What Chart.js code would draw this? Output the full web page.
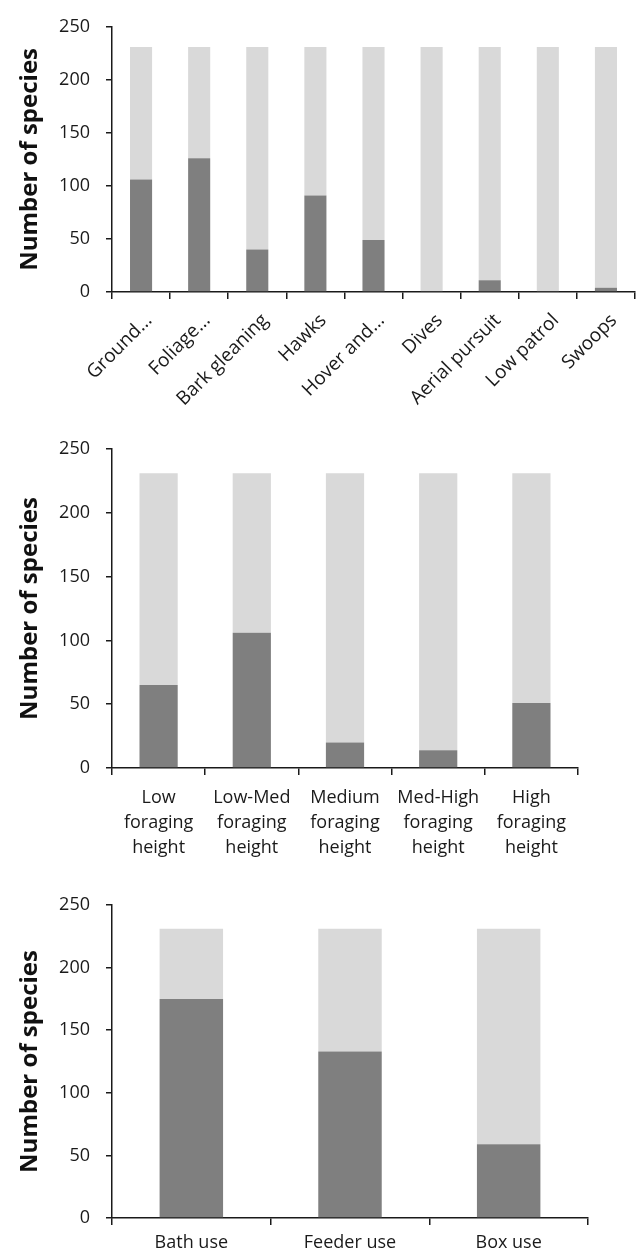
<!DOCTYPE html>
<html>
<head>
<meta charset="utf-8">
<script src="https://cdn.jsdelivr.net/npm/chart.js@4/dist/chart.umd.min.js"></script>
<style>
  body { margin: 0; background: #fff; }
  .box { position: absolute; left: 0; width: 640px; }
</style>
</head>
<body>
<div class="box" style="top:0;height:420px"><canvas id="chart1"></canvas></div>
<div class="box" style="top:420px;height:440px"><canvas id="chart2"></canvas></div>
<div class="box" style="top:860px;height:393px"><canvas id="chart3"></canvas></div>
<script>
// foraging behaviour
var behaviourLabels = ['Ground...', 'Foliage...', 'Bark gleaning', 'Hawks', 'Hover and...', 'Dives', 'Aerial pursuit', 'Low patrol', 'Swoops']
var behaviourYes = [106, 126, 40, 91, 49, 1, 11, 1, 4]
var behaviourNo = [125, 105, 191, 140, 182, 230, 220, 230, 227]

// foraging height
var heightLabels = [['Low', 'foraging', 'height'], ['Low-Med', 'foraging', 'height'], ['Medium', 'foraging', 'height'], ['Med-High', 'foraging', 'height'], ['High', 'foraging', 'height']]
var heightYes = [65, 106, 20, 14, 51]
var heightNo = [166, 125, 211, 217, 180]

// garden resources
var useLabels = ['Bath use', 'Feeder use', 'Box use']
var useYes = [175, 133, 59]
var useNo = [56, 98, 172]

var yTicks = [0, 50, 100, 150, 200, 250]
var yTitle = 'Number of species'

var darkGrey = '#7f7f7f'
var lightGrey = '#d9d9d9'
var axisColor = '#1a1a1a'

Chart.defaults.font.family = "'Open Sans', sans-serif"
Chart.defaults.color = '#1a1a1a'

function makeChart(id, labels, yes, no, opts) {
    var ctx = document.getElementById(id)
    return new Chart(ctx, {
        type: 'bar',
        data: {
            labels: labels,
            datasets: [{
                data: yes,
                backgroundColor: darkGrey,
                barPercentage: opts.barPct,
                categoryPercentage: 1
            }, {
                data: no,
                backgroundColor: lightGrey,
                barPercentage: opts.barPct,
                categoryPercentage: 1
            }]
        },
        options: {
            responsive: true,
            maintainAspectRatio: false,
            animation: false,
            layout: {
                padding: { top: opts.top, right: opts.right, left: 0, bottom: 0 }
            },
            scales: {
                x: {
                    stacked: true,
                    border: { display: true, color: axisColor, width: 1.5 },
                    grid: { display: true, drawOnChartArea: false, drawTicks: true, tickLength: 7, color: axisColor, lineWidth: 1.5, offset: true },
                    ticks: {
                        autoSkip: false,
                        maxRotation: opts.rot,
                        minRotation: opts.rot,
                        padding: opts.pad,
                        labelOffset: opts.labelOffset || 0,
                        font: { size: opts.xFont || 18, lineHeight: 1.4 },
                        color: '#1a1a1a'
                    },
                    afterFit: function (scale) { scale.height = opts.xHeight }
                },
                y: {
                    stacked: true,
                    min: 0,
                    max: 250,
                    afterBuildTicks: function (scale) {
                        scale.ticks = yTicks.map(function (v) { return { value: v } })
                    },
                    border: { display: true, color: axisColor, width: 1.5 },
                    grid: { display: true, drawOnChartArea: false, drawTicks: true, tickLength: 6, color: axisColor, lineWidth: 1.5 },
                    ticks: { padding: 16, font: { size: 18 }, color: '#1a1a1a' },
                    title: {
                        display: true,
                        text: yTitle,
                        font: { size: 24, weight: 'bold' },
                        color: '#111',
                        padding: { top: 16, bottom: 0 }
                    },
                    afterFit: function (scale) { scale.width = 112 }
                }
            },
            plugins: {
                legend: { display: false },
                tooltip: { enabled: false }
            }
        }
    })
}

var c1 = makeChart('chart1', behaviourLabels, behaviourYes, behaviourNo, { barPct: 0.38, top: 16, right: 5, rot: 45, pad: 9, labelOffset: 8, xFont: 19, xHeight: 128 })
var c2 = makeChart('chart2', heightLabels, heightYes, heightNo, { barPct: 0.41, top: 29, right: 62, rot: 0, pad: 10, xHeight: 92 })
var c3 = makeChart('chart3', useLabels, useYes, useNo, { barPct: 0.4, top: 45, right: 52, rot: 0, pad: 5, xHeight: 35 })
</script>
</body>
</html>
